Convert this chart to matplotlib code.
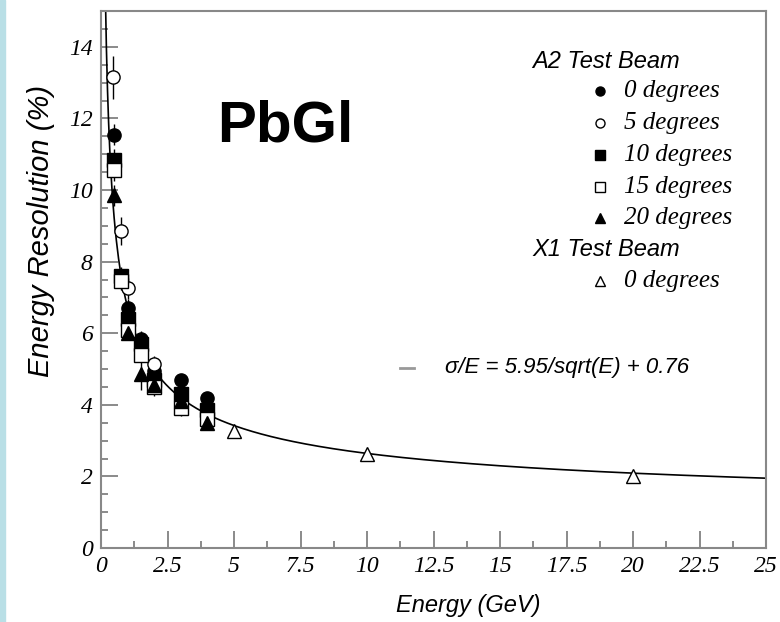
import matplotlib
matplotlib.use('Agg')
import matplotlib.pyplot as plt
import numpy as np
from matplotlib.patches import Rectangle
from matplotlib.ticker import MultipleLocator

# A2 test beam, energy (GeV) and resolution (%) per incidence angle
e_0deg = [0.5, 1.0, 1.5, 2.0, 3.0, 4.0]
r_0deg = [11.55, 6.7, 5.85, 4.95, 4.7, 4.2]
err_0deg = [0.3, 0.25, 0.2, 0.2, 0.15, 0.15]

e_5deg = [0.45, 0.75, 1.0, 2.0]
r_5deg = [13.15, 8.85, 7.25, 5.15]
err_5deg = [0.6, 0.4, 0.3, 0.2]

e_10deg = [0.5, 0.75, 1.0, 1.5, 2.0, 3.0, 4.0]
r_10deg = [10.85, 7.6, 6.4, 5.7, 4.7, 4.3, 3.85]
err_10deg = [0.3, 0.25, 0.2, 0.2, 0.15, 0.15, 0.15]

e_15deg = [0.5, 0.75, 1.0, 1.5, 2.0, 3.0, 4.0]
r_15deg = [10.55, 7.45, 6.1, 5.4, 4.5, 3.9, 3.6]
err_15deg = [0.3, 0.25, 0.2, 0.2, 0.15, 0.2, 0.15]

e_20deg = [0.5, 1.0, 1.5, 2.0, 3.0, 4.0]
r_20deg = [9.85, 6.0, 4.85, 4.55, 4.1, 3.5]
err_20deg = [0.3, 0.2, 0.45, 0.3, 0.2, 0.15]

# X1 test beam, 0 degrees
e_x1 = [5.0, 10.0, 20.0]
r_x1 = [3.28, 2.62, 2.0]

# fit: sigma/E = a/sqrt(E) + b
fit_a = 5.95
fit_b = 0.76

legend_labels = ['0 degrees', '5 degrees', '10 degrees', '15 degrees', '20 degrees']

fig = plt.figure(figsize=(7.8, 6.22), dpi=100)
fig.patches.append(Rectangle((0, 0), 5 / 780, 1, transform=fig.transFigure,
                             color='#b9dfe6', zorder=0))
ax = fig.add_axes([101 / 780, 74 / 622, 665 / 780, 537 / 622])

e_fit = np.linspace(0.12, 25, 600)
ax.plot(e_fit, fit_a / np.sqrt(e_fit) + fit_b, color='black', lw=1.2, zorder=2)

series = [
    (e_0deg, r_0deg, err_0deg, 'o', 'black'),
    (e_5deg, r_5deg, err_5deg, 'o', 'white'),
    (e_10deg, r_10deg, err_10deg, 's', 'black'),
    (e_15deg, r_15deg, err_15deg, 's', 'white'),
    (e_20deg, r_20deg, err_20deg, '^', 'black'),
]
for e, r, err, m, fc in series:
    ax.errorbar(e, r, yerr=err, fmt=m, ms=9.5, mfc=fc, mec='black', mew=1.0,
                ecolor='black', elinewidth=1.0, capsize=0, zorder=3)
ax.plot(e_x1, r_x1, '^', ms=10, mfc='white', mec='black', mew=1.0, zorder=3)

ax.set_xlim(0, 25)
ax.set_ylim(0, 15)
ax.xaxis.set_minor_locator(MultipleLocator(1.25))
ax.yaxis.set_minor_locator(MultipleLocator(0.5))
ax.set_xticks([0, 2.5, 5, 7.5, 10, 12.5, 15, 17.5, 20, 22.5, 25])
ax.set_xticklabels(['0', '2.5', '5', '7.5', '10', '12.5', '15', '17.5', '20', '22.5', '25'])
ax.set_yticks([0, 2, 4, 6, 8, 10, 12, 14])
ax.tick_params(which='both', direction='in', color='#777777', width=1.2,
               labelsize=17, pad=6)
ax.tick_params(which='major', length=12)
ax.tick_params(which='minor', length=5)
for lab in ax.get_xticklabels() + ax.get_yticklabels():
    lab.set_family('Liberation Serif')
    lab.set_style('italic')
for sp in ax.spines.values():
    sp.set_color('#888888')
    sp.set_linewidth(1.5)

ax.set_xlabel('Energy (GeV)', family='Liberation Sans', style='italic',
              fontsize=17, labelpad=12, x=0.553)
ax.set_ylabel('Energy Resolution (%)', family='Liberation Sans', style='italic',
              fontsize=21, labelpad=10, y=0.59)

ax.text(0.277, 0.784, 'PbGl', transform=ax.transAxes, family='Liberation Sans',
        weight='bold', fontsize=42, ha='center', va='center')

# legend
def px(x, y):
    return ((x - 101) / 665, (548 - y) / 537)

sans_it = dict(family='Liberation Sans', style='italic', fontsize=17)
serif_it = dict(family='Liberation Serif', style='italic', fontsize=18)

ax.text(*px(532, 62), 'A2 Test Beam', transform=ax.transAxes, va='center', **sans_it)
legend_markers = [('o', 'black'), ('o', 'white'), ('s', 'black'), ('s', 'white'), ('^', 'black')]
rows_y = [91, 123, 155, 187, 218]
for (m, fc), lab, yy in zip(legend_markers, legend_labels, rows_y):
    mx, my = px(600, yy)
    ax.plot([mx], [my], m, ms=6.5, mfc=fc, mec='black', mew=1.0,
            transform=ax.transAxes, clip_on=False)
    tx, ty = px(624, yy)
    ax.text(tx, ty, lab, transform=ax.transAxes, va='center', **serif_it)
ax.text(*px(532, 250), 'X1 Test Beam', transform=ax.transAxes, va='center', **sans_it)
mx, my = px(600, 281)
ax.plot([mx], [my], '^', ms=6.5, mfc='white', mec='black', mew=1.0,
        transform=ax.transAxes, clip_on=False)
ax.text(*px(624, 281), '0 degrees', transform=ax.transAxes, va='center', **serif_it)

x0, y0 = px(400, 368)
x1, _ = px(414, 368)
ax.plot([x0, x1], [y0, y0], color='#999999', lw=2, transform=ax.transAxes)
ax.text(*px(445, 368), 'σ/E = 5.95/sqrt(E) + 0.76', transform=ax.transAxes,
        va='center', family='Liberation Sans', style='italic', fontsize=16)

fig.savefig('out.png', dpi=100)
